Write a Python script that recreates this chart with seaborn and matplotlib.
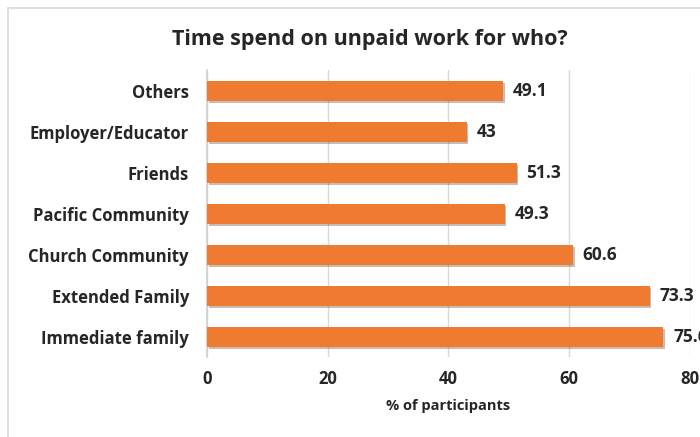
import pandas as pd
import numpy as np
import seaborn as sns
import matplotlib.pyplot as plt
from matplotlib.patches import Rectangle
import matplotlib.patheffects as pe

categories = ['Others', 'Employer/Educator', 'Friends', 'Pacific Community',
              'Church Community', 'Extended Family', 'Immediate family']
values = [49.1, 43, 51.3, 49.3, 60.6, 73.3, 75.6]
value_labels = ['49.1', '43', '51.3', '49.3', '60.6', '73.3', '75.6']
x_ticks = [0, 20, 40, 60, 80]

df = pd.DataFrame({'who': categories, 'pct': values})

sns.set_style('white')
plt.rcParams['font.family'] = ['Open Sans', 'DejaVu Sans']

fig = plt.figure(figsize=(7, 4.37), dpi=100)
ax = fig.add_axes([0.2957, 0.182, 0.69, 0.657])

# chart frame (excel-like), partly outside the crop
fig.patches.append(Rectangle((8 / 700, -0.1), 1.2, 1 - 8 / 437 + 0.1,
                             transform=fig.transFigure, fill=False,
                             edgecolor='#D9D9D9', linewidth=1.2))

sns.barplot(data=df, x='pct', y='who', orient='h', color='#EE7B30',
            saturation=1, width=0.5, linewidth=0, ax=ax, zorder=3)
for bar in ax.patches:
    bar.set_linewidth(0)
    bar.set_path_effects([pe.SimplePatchShadow(offset=(1.2, -1.5), alpha=0.3),
                          pe.Normal()])

for i, (v, lab) in enumerate(zip(values, value_labels)):
    ax.text(v + 1.6, i, lab, va='center', ha='left', fontsize=12.5,
            fontweight='bold', clip_on=False)

ax.set_xlim(0, 80)
ax.set_xticks(x_ticks)
ax.set_ylim(6.5, -0.5)
ax.grid(axis='x', color='#D9D9D9', linewidth=1, zorder=0)
for s in ['top', 'right', 'bottom']:
    ax.spines[s].set_visible(False)
ax.spines['left'].set_color('#D0D0D0')
ax.spines['left'].set_linewidth(1.2)
ax.tick_params(axis='y', length=0, pad=13, labelsize=12)
ax.tick_params(axis='x', length=0, pad=9, labelsize=12)
for t in ax.get_yticklabels() + ax.get_xticklabels():
    t.set_fontweight('bold')
ax.set_ylabel('')
ax.set_xlabel('% of participants', fontsize=10.5, fontweight='bold', labelpad=8)

fig.text(0.528, 0.91, 'Time spend on unpaid work for who?', ha='center',
         va='center', fontsize=15.5, fontweight='bold')

fig.savefig('out.png', dpi=100)
